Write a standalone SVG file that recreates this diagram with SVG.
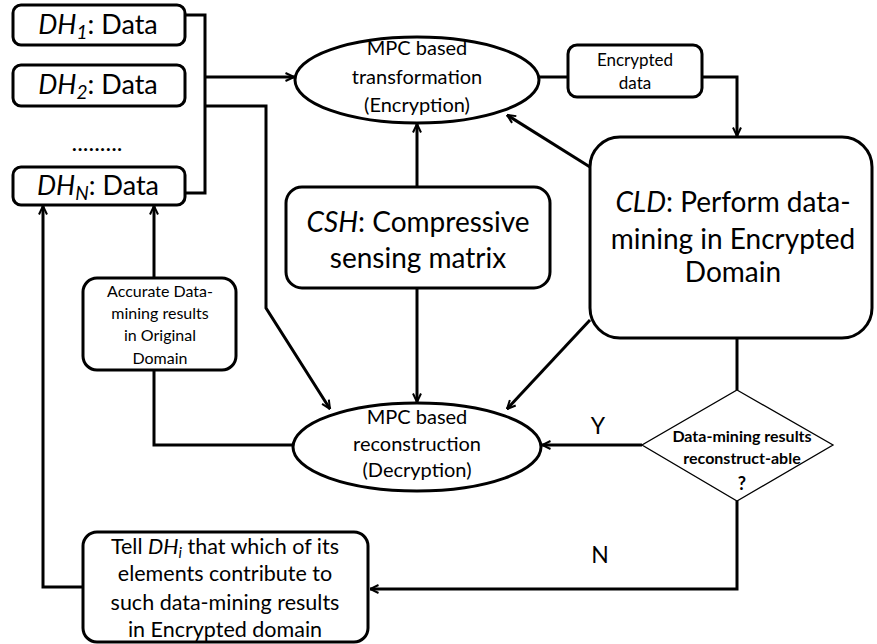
<svg xmlns="http://www.w3.org/2000/svg" width="877" height="644" viewBox="0 0 877 644">
<style>
.box{fill:#fff;stroke:#000;stroke-width:3}
.thin{fill:#fff;stroke:#000;stroke-width:1.3}
.ln{fill:none;stroke:#000;stroke-width:3}
text{font-family:Lato,"Open Sans","Liberation Sans",sans-serif;fill:#000;text-anchor:middle}
.it{font-style:italic}
</style>
<defs>
<marker id="ar" viewBox="0 0 10 10" refX="9.5" refY="5" markerWidth="10" markerHeight="10" markerUnits="userSpaceOnUse" orient="auto">
<path d="M1,1 L9.5,5 L1,9" fill="none" stroke="#000" stroke-width="2"/>
</marker>
</defs>
<g id="connectors">
<path class="ln" d="M185,15 H205 V193 H185"/>
<path class="ln" d="M205,77 H294" marker-end="url(#ar)"/>
<path class="ln" d="M205,106 H266 V308 L330,409" marker-end="url(#ar)"/>
<path class="ln" d="M417,187 V124" marker-end="url(#ar)"/>
<path class="ln" d="M417,288 V402" marker-end="url(#ar)"/>
<path class="ln" d="M540,77 H568"/>
<path class="ln" d="M702,77 H737 V136" marker-end="url(#ar)"/>
<path class="ln" d="M590,167 L507,115" marker-end="url(#ar)"/>
<path class="ln" d="M590,320 L507,409" marker-end="url(#ar)"/>
<path class="ln" d="M737,338 V390"/>
<path class="ln" d="M642,445 H542" marker-end="url(#ar)"/>
<path class="ln" d="M737,501 V589 H370" marker-end="url(#ar)"/>
<path class="ln" d="M294,445 H154 V370"/>
<path class="ln" d="M154,278 V206" marker-end="url(#ar)"/>
<path class="ln" d="M83,587 H43 V206" marker-end="url(#ar)"/>
</g>
<g id="dh1">
<rect class="box" x="13" y="5" width="172" height="40" rx="8"/>
<text x="98" y="34" font-size="27"><tspan class="it">DH</tspan><tspan class="it" font-size="19" dy="5">1</tspan><tspan dy="-5">: Data</tspan></text>
</g>
<g id="dh2">
<rect class="box" x="13" y="65" width="172" height="41" rx="8"/>
<text x="98" y="94" font-size="27"><tspan class="it">DH</tspan><tspan class="it" font-size="19" dy="5">2</tspan><tspan dy="-5">: Data</tspan></text>
</g>
<g id="dots">
<text x="97" y="151" font-size="24">.........</text>
</g>
<g id="dhn">
<rect class="box" x="13" y="167" width="172" height="38" rx="8"/>
<text x="98" y="195" font-size="27"><tspan class="it">DH</tspan><tspan class="it" font-size="19" dy="5">N</tspan><tspan dy="-5">: Data</tspan></text>
</g>
<g id="encryption">
<ellipse class="box" cx="417" cy="80" rx="122" ry="43"/>
<text x="417" y="55" font-size="20">MPC based</text>
<text x="417" y="84" font-size="20">transformation</text>
<text x="417" y="112" font-size="20">(Encryption)</text>
</g>
<g id="encdata">
<rect class="box" x="568" y="45" width="134" height="52" rx="9"/>
<text x="635" y="66" font-size="17">Encrypted</text>
<text x="635" y="89" font-size="17">data</text>
</g>
<g id="cld">
<rect class="box" x="590" y="137" width="282" height="201" rx="30"/>
<text x="733" y="212" font-size="28"><tspan class="it">CLD</tspan>: Perform data-</text>
<text x="733" y="249" font-size="28">mining in Encrypted</text>
<text x="733" y="282" font-size="28">Domain</text>
</g>
<g id="csh">
<rect class="box" x="286" y="187" width="264" height="101" rx="16"/>
<text x="418" y="232" font-size="28"><tspan class="it">CSH</tspan>: Compressive</text>
<text x="418" y="268" font-size="28">sensing matrix</text>
</g>
<g id="accurate">
<rect class="box" x="83" y="278" width="153" height="92" rx="14"/>
<text x="160" y="297" font-size="16">Accurate Data-</text>
<text x="160" y="319" font-size="16">mining results</text>
<text x="160" y="341" font-size="16">in Original</text>
<text x="160" y="364" font-size="16">Domain</text>
</g>
<g id="reconstruction">
<ellipse class="box" cx="417" cy="447" rx="124" ry="44"/>
<text x="417" y="424" font-size="20">MPC based</text>
<text x="417" y="451" font-size="20">reconstruction</text>
<text x="417" y="477" font-size="20">(Decryption)</text>
</g>
<g id="decision">
<polygon class="thin" points="737,390 833,445 737,501 642,445"/>
<text x="742" y="442" font-size="16" font-weight="bold">Data-mining results</text>
<text x="742" y="464" font-size="16" font-weight="bold">reconstruct-able</text>
<text x="742" y="490" font-size="18" font-weight="bold">?</text>
</g>
<g id="labels">
<text x="598" y="434" font-size="23">Y</text>
<text x="600" y="563" font-size="23">N</text>
</g>
<g id="tell">
<rect class="box" x="83" y="532" width="285" height="110" rx="14"/>
<text x="225" y="554" font-size="21.5">Tell <tspan class="it">DH</tspan><tspan class="it" font-size="15" dy="4">i</tspan><tspan dy="-4"> that which of its</tspan></text>
<text x="225" y="581" font-size="21.5">elements contribute to</text>
<text x="225" y="610" font-size="21.5">such data-mining results</text>
<text x="225" y="637" font-size="21.5">in Encrypted domain</text>
</g>
</svg>
